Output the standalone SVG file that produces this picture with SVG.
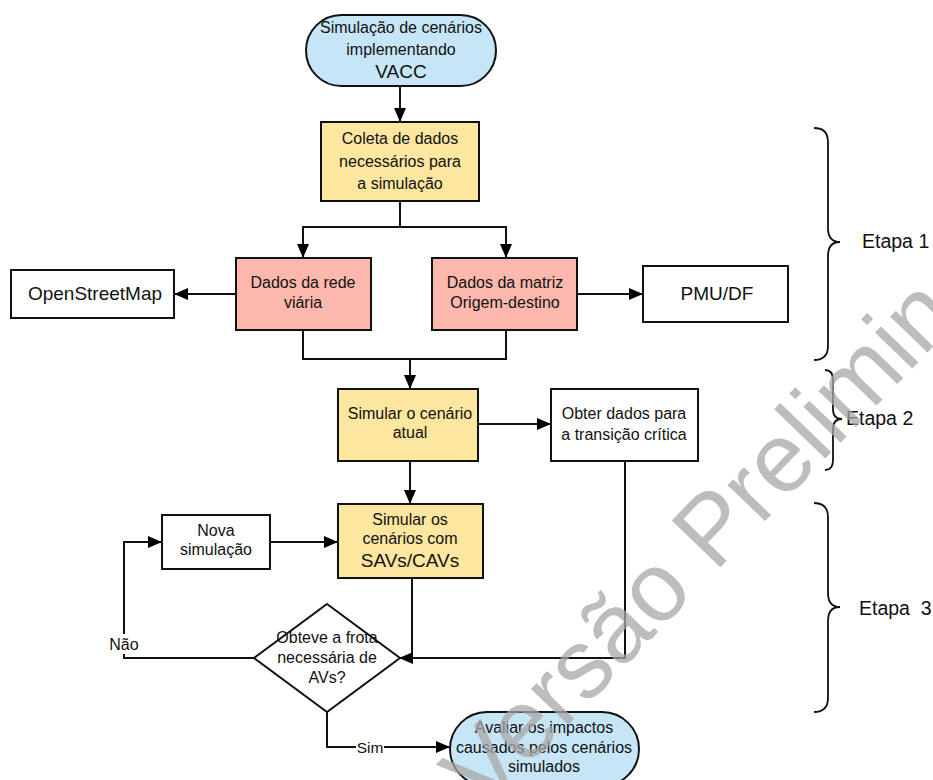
<svg xmlns="http://www.w3.org/2000/svg" width="933" height="780" viewBox="0 0 933 780">
<defs>
<marker id="ah" markerWidth="14" markerHeight="12" refX="13" refY="6" orient="auto" markerUnits="userSpaceOnUse">
<path d="M0,0 L14,6 L0,12 Z" fill="#000"/>
</marker>
<style>
.t{font-family:"Liberation Sans",Arial,sans-serif;fill:#111;text-anchor:middle;dominant-baseline:central;font-size:16px}
.n{stroke:#111;stroke-width:2}
.c{fill:none;stroke:#111;stroke-width:2}
.b{fill:none;stroke:#111;stroke-width:1.8}
.e{font-family:"Liberation Sans",Arial,sans-serif;font-size:19.5px;fill:#111}
.blue{fill:#c6e5f7}.yel{fill:#fde6a0}.pink{fill:#fdb8ae}.wh{fill:#fff}
</style>
</defs>
<rect width="933" height="780" fill="#fff"/>
<g id="connectors">
<path class="c" d="M400,86 V121" marker-end="url(#ah)"/>
<path class="c" d="M400,201 V227 H303 V257" marker-end="url(#ah)"/>
<path class="c" d="M400,227 H506 V257" marker-end="url(#ah)"/>
<path class="c" d="M236,294 H175" marker-end="url(#ah)"/>
<path class="c" d="M577,294 H642" marker-end="url(#ah)"/>
<path class="c" d="M303,330 V359 H506 V330"/>
<path class="c" d="M410,359 V388" marker-end="url(#ah)"/>
<path class="c" d="M478,424 H550" marker-end="url(#ah)"/>
<path class="c" d="M410,461 V503" marker-end="url(#ah)"/>
<path class="c" d="M412,578 V658"/>
<path class="c" d="M625,461 V658 H400" marker-end="url(#ah)"/>
<path class="c" d="M254,658 H124 V542 H161" marker-end="url(#ah)"/>
<path class="c" d="M270,542 H337" marker-end="url(#ah)"/>
<path class="c" d="M327,712 V747 H449" marker-end="url(#ah)"/>
<rect x="108" y="634" width="33" height="20" fill="#fff"/>
<text class="t" x="124" y="644">Não</text>
<rect x="356" y="739" width="28" height="17" fill="#fff"/>
<text class="t" x="370" y="747" style="font-size:15.5px">Sim</text>
</g>
<g id="start">
<rect class="n blue" x="306" y="15" width="190" height="71" rx="35.5"/>
<text class="t" x="401" y="27">Simulação de cenários</text>
<text class="t" x="401" y="49">implementando</text>
<text class="t" x="401" y="71" style="font-size:19px">VACC</text>
</g>
<g id="coleta">
<rect class="n yel" x="321" y="122" width="158" height="79"/>
<text class="t" x="400" y="138">Coleta de dados</text>
<text class="t" x="400" y="161">necessários para</text>
<text class="t" x="400" y="183">a simulação</text>
</g>
<g id="rede">
<rect class="n pink" x="236" y="258" width="135" height="72"/>
<text class="t" x="303" y="282">Dados da rede</text>
<text class="t" x="303" y="302">viária</text>
</g>
<g id="osm">
<rect class="n wh" x="11" y="270" width="163" height="48"/>
<text class="t" x="95" y="293" style="font-size:19px">OpenStreetMap</text>
</g>
<g id="matriz">
<rect class="n pink" x="432" y="258" width="145" height="72"/>
<text class="t" x="505" y="282">Dados da matriz</text>
<text class="t" x="505" y="302">Origem-destino</text>
</g>
<g id="pmu">
<rect class="n wh" x="643" y="266" width="145" height="56"/>
<text class="t" x="717" y="293" style="font-size:19px">PMU/DF</text>
</g>
<g id="atual">
<rect class="n yel" x="338" y="389" width="140" height="72"/>
<text class="t" x="410" y="413">Simular o cenário</text>
<text class="t" x="410" y="432">atual</text>
</g>
<g id="obter">
<rect class="n wh" x="551" y="389" width="147" height="72"/>
<text class="t" x="624" y="413">Obter dados para</text>
<text class="t" x="624" y="434">a transição crítica</text>
</g>
<g id="savs">
<rect class="n yel" x="338" y="504" width="145" height="74"/>
<text class="t" x="410" y="519">Simular os</text>
<text class="t" x="410" y="538">cenários com</text>
<text class="t" x="410" y="560" style="font-size:19px">SAVs/CAVs</text>
</g>
<g id="nova">
<rect class="n wh" x="162" y="515" width="108" height="54"/>
<text class="t" x="216" y="530">Nova</text>
<text class="t" x="216" y="549">simulação</text>
</g>
<g id="decisao">
<path class="n wh" d="M327,604 L400,658 L327,712 L254,658 Z"/>
<text class="t" x="327" y="637">Obteve a frota</text>
<text class="t" x="327" y="657">necessária de</text>
<text class="t" x="327" y="677">AVs?</text>
</g>
<g id="avaliar">
<rect class="n blue" x="450" y="712" width="189" height="74" rx="37"/>
<text class="t" x="544" y="727">Avaliar os impactos</text>
<text class="t" x="544" y="747">causados pelos cenários</text>
<text class="t" x="544" y="766">simulados</text>
</g>
<g id="etapas">
<path class="b" d="M814,128 Q828,128 828,142 L828,228 Q828,242 840,242 Q828,242 828,256 L828,346 Q828,360 814,360"/>
<text class="e" x="862" y="248">Etapa 1</text>
<path class="b" d="M825,370 Q833,370 833,380 L833,409 Q833,419 842,419 Q833,419 833,429 L833,460 Q833,470 825,470"/>
<text class="e" x="846" y="425">Etapa 2</text>
<path class="b" d="M814,503 Q828,503 828,517 L828,593 Q828,607 840,607 Q828,607 828,621 L828,698 Q828,712 814,712"/>
<text class="e" x="859" y="615" xml:space="preserve">Etapa  3</text>
</g>
<text x="0" y="0" transform="translate(484,812) rotate(-46)" font-family="Liberation Sans, Arial, sans-serif" font-size="98" fill="#a8a8a8" opacity="0.75">Versão Preliminar</text>
</svg>
